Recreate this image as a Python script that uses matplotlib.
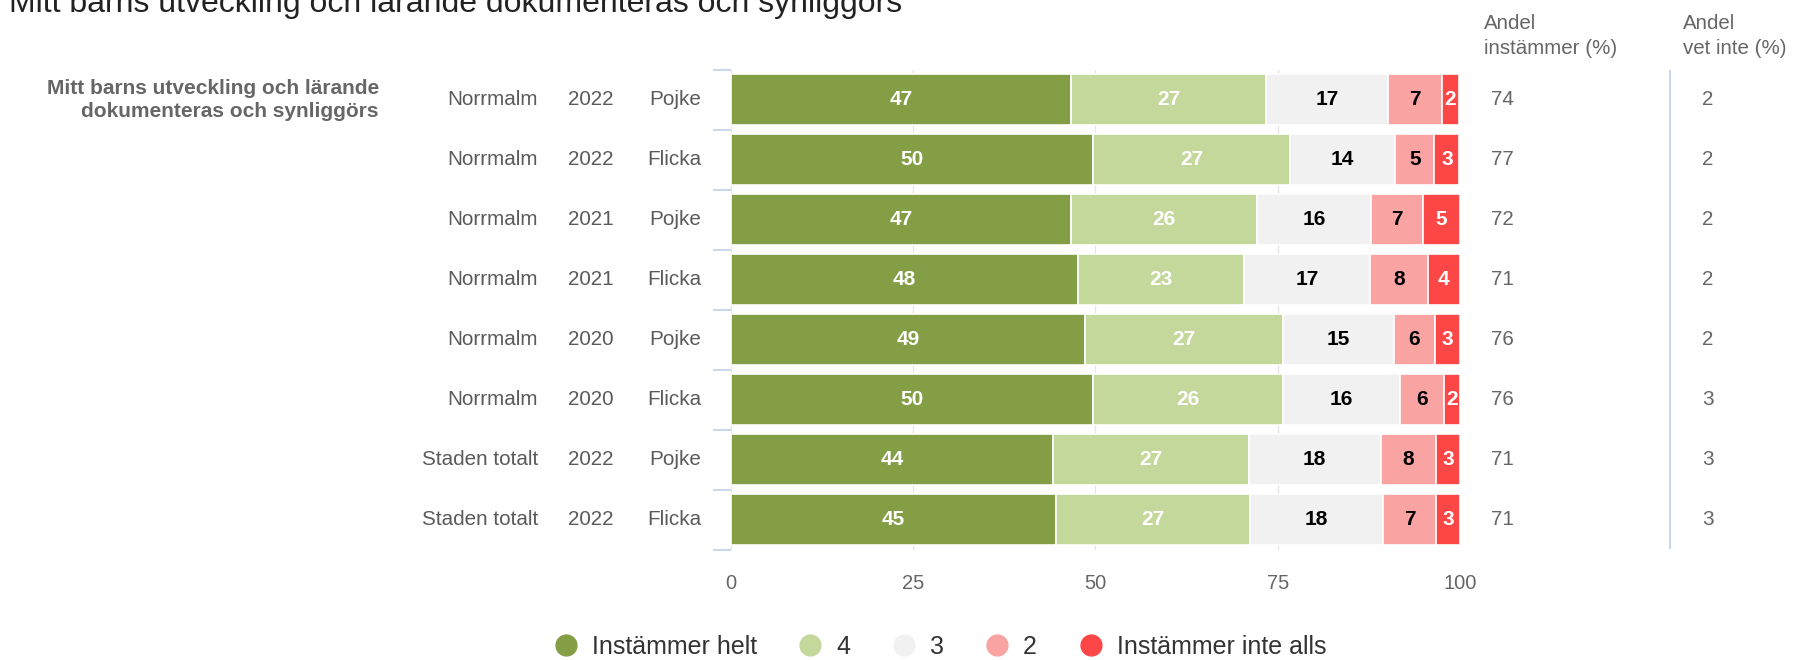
import matplotlib
matplotlib.use("Agg")
import matplotlib.pyplot as plt
import matplotlib.transforms as mtrans
from matplotlib.lines import Line2D
import numpy as np

plt.rcParams['font.family'] = ['Liberation Sans', 'DejaVu Sans']

title = "Mitt barns utveckling och lärande dokumenteras och synliggörs"
question = "Mitt barns utveckling och lärande\ndokumenteras och synliggörs"

areas = ["Norrmalm", "Norrmalm", "Norrmalm", "Norrmalm", "Norrmalm", "Norrmalm",
         "Staden totalt", "Staden totalt"]
years = ["2022", "2022", "2021", "2021", "2020", "2020", "2022", "2022"]
genders = ["Pojke", "Flicka", "Pojke", "Flicka", "Pojke", "Flicka", "Pojke", "Flicka"]

# shares per answer (%)
helt = [46.6, 49.7, 46.6, 47.6, 48.6, 49.7, 44.2, 44.6]
four = [26.8, 27.0, 25.6, 22.8, 27.1, 26.0, 26.8, 26.6]
three = [16.7, 14.4, 15.6, 17.3, 15.2, 16.1, 18.1, 18.3]
two = [7.4, 5.4, 7.1, 7.9, 5.7, 6.0, 7.6, 7.2]
inte = [2.4, 3.4, 5.1, 4.4, 3.4, 2.2, 3.3, 3.3]

andel_instammer = [74, 77, 72, 71, 76, 76, 71, 71]
andel_vet_inte = [2, 2, 2, 2, 2, 3, 3, 3]

series_names = ["Instämmer helt", "4", "3", "2", "Instämmer inte alls"]
colors = ["#839e44", "#c5d89c", "#f1f1f1", "#f9a3a3", "#fd4646"]
label_colors = ["white", "white", "black", "black", "white"]

fig = plt.figure(figsize=(18.08, 6.6), dpi=100)
ax = fig.add_axes([0.4043, 0.1667, 0.4032, 0.7273])

y = np.arange(len(helt))
left = np.zeros(len(helt))
for vals, col, lcol, name in zip([helt, four, three, two, inte], colors, label_colors, series_names):
    vals = np.array(vals)
    bars = ax.barh(y, vals, left=left, height=0.85, color=col, edgecolor='white',
                   linewidth=1.2, label=name, zorder=3)
    ax.bar_label(bars, labels=[f"{v:.0f}" for v in vals], label_type='center',
                 color=lcol, fontsize=15, fontweight='bold', zorder=4)
    left += vals

ax.set_xlim(0, 100)
ax.set_ylim(len(helt) - 0.5, -0.5)
ax.set_xticks([0, 25, 50, 75, 100])
ax.tick_params(axis='x', length=0, pad=17.5, labelsize=14.5, labelcolor='#666666')
ax.grid(axis='x', color='#e6e6e6', linewidth=1, zorder=0)
ax.set_yticks(y)
ax.set_yticklabels([])
ax.tick_params(axis='y', which='major', length=0)
ax.set_yticks(np.arange(-0.5, len(helt)), minor=True)
ax.tick_params(axis='y', which='minor', length=13, width=1.5, color='#ccd6eb')
for s in ax.spines.values():
    s.set_visible(False)

tr = mtrans.blended_transform_factory(fig.transFigure, ax.transData)
for i in range(len(helt)):
    ax.text(0.2976, i, areas[i], transform=tr, ha='right', va='center',
            fontsize=14.9, color='#5a5a5a')
    ax.text(0.3269, i, years[i], transform=tr, ha='center', va='center',
            fontsize=14.9, color='#5a5a5a')
    ax.text(0.3877, i, genders[i], transform=tr, ha='right', va='center',
            fontsize=14.9, color='#5a5a5a')
    ax.text(0.8247, i, str(andel_instammer[i]), transform=tr, ha='left', va='center',
            fontsize=14.9, color='#666666')
    ax.text(0.9447, i, str(andel_vet_inte[i]), transform=tr, ha='center', va='center',
            fontsize=14.9, color='#666666')

ax.text(0.2096, 0, question, transform=tr, ha='right', va='center',
        fontsize=15, fontweight='bold', color='#666666', linespacing=1.3)

fig.text(0.8208, 0.9455, "Andel\ninstämmer (%)", ha='left', va='center',
         fontsize=14.8, color='#666666', linespacing=1.45)
fig.text(0.9309, 0.9455, "Andel\nvet inte (%)", ha='left', va='center',
         fontsize=14.8, color='#666666', linespacing=1.45)
fig.add_artist(Line2D([0.9237, 0.9237], [0.170, 0.892], transform=fig.transFigure,
                      color='#ccd6eb', linewidth=1.5))

fig.text(0.005, 0.9818, title, ha='left', va='baseline', fontsize=23, color='#222222')

handles = [Line2D([], [], marker='o', linestyle='', markersize=15, color=c) for c in colors]
fig.legend(handles, series_names, loc='center', bbox_to_anchor=(0.5197, 0.0197), ncol=5,
           frameon=False, fontsize=18, handlelength=1, handletextpad=0.54,
           columnspacing=1.64, labelcolor='#333333', borderpad=0, borderaxespad=0)

fig.savefig("out.png", dpi=100)
